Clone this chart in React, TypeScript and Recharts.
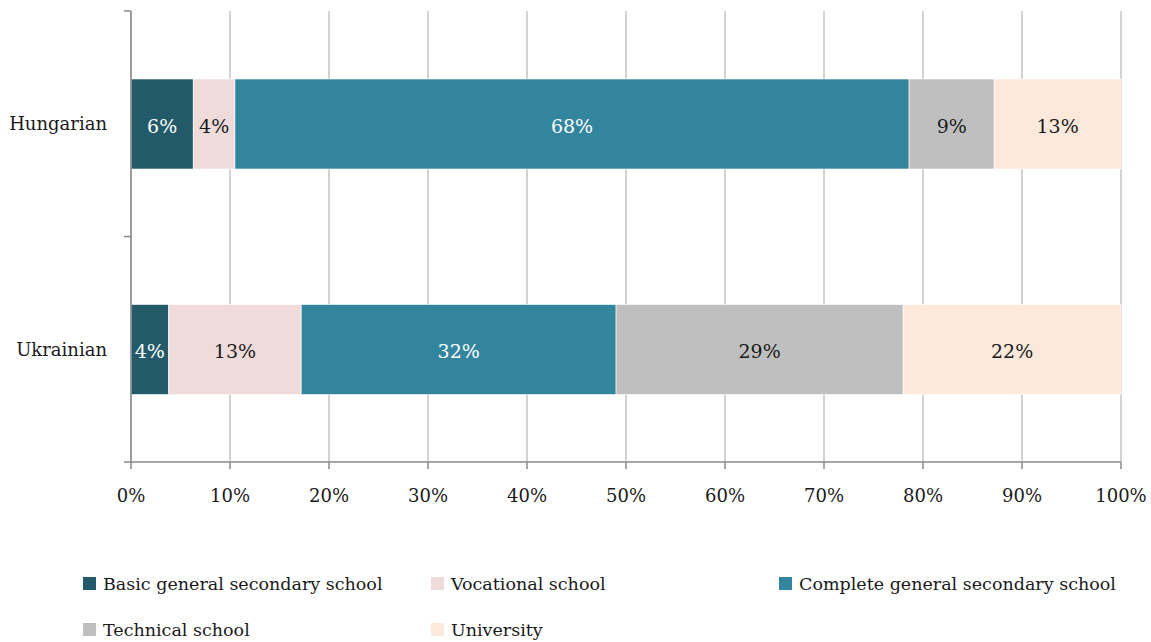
import React from "react";
import { BarChart, Bar, XAxis, YAxis, CartesianGrid, LabelList } from "recharts";

const groups = ["Hungarian", "Ukrainian"];
const seriesNames = [
  "Basic general secondary school",
  "Vocational school",
  "Complete general secondary school",
  "Technical school",
  "University",
];
const basicGeneral = [6.3, 3.8];
const vocational = [4.2, 13.4];
const completeGeneral = [68.1, 31.8];
const technical = [8.6, 29.0];
const university = [12.8, 22.0];
const xTicks = [0, 10, 20, 30, 40, 50, 60, 70, 80, 90, 100];

const colors = ["#235a69", "#f0dbdb", "#33859e", "#bfbfbf", "#fce9dc"];
const labelColors = ["#ffffff", "#1a1a1a", "#ffffff", "#1a1a1a", "#1a1a1a"];
const keys = ["basic", "vocational", "complete", "technical", "university"];

const data = groups.map((g, i) => ({
  group: g,
  basic: basicGeneral[i],
  vocational: vocational[i],
  complete: completeGeneral[i],
  technical: technical[i],
  university: university[i],
}));

const FONT = "DejaVu Serif";
const AXIS = "#8a8a8a";

// y axis: text at band centre, tick marks at band edges
const BAND_HALF = 112.75;
const CategoryTick = (props: any) => {
  const { x, y, payload, index } = props;
  const ax = x + 24;
  return (
    <g>
      <line x1={ax - 7} x2={ax} y1={y - BAND_HALF} y2={y - BAND_HALF} stroke={AXIS} strokeWidth={1.5} />
      {index === groups.length - 1 && (
        <line x1={ax - 7} x2={ax} y1={y + BAND_HALF} y2={y + BAND_HALF} stroke={AXIS} strokeWidth={1.5} />
      )}
      <text x={x} y={y} dy="0.35em" textAnchor="end" fontFamily={FONT} fontSize={18} fill="#1a1a1a">
        {payload.value}
      </text>
    </g>
  );
};

export default function App() {
  return (
    <div style={{ position: "relative", width: 1151, height: 642, padding: 8, boxSizing: "border-box", fontFamily: FONT }}>
      <style>{"body{margin:0}"}</style>
      <BarChart
        width={1143}
        height={500}
        data={data}
        layout="vertical"
        margin={{ top: 3, right: 30, left: 0, bottom: 0 }}
        barSize={90}
      >
        <CartesianGrid horizontal={false} vertical stroke="#c4c4c4" strokeWidth={1.5} />
        <XAxis
          type="number"
          domain={[0, 100]}
          ticks={xTicks}
          tickFormatter={(v) => `${v}%`}
          stroke={AXIS}
          strokeWidth={1.5}
          tickSize={7}
          tickMargin={20}
          height={46}
          tick={{ fill: "#1a1a1a", fontSize: 18, fontFamily: FONT }}
          interval={0}
        />
        <YAxis
          type="category"
          dataKey="group"
          width={123}
          stroke={AXIS}
          strokeWidth={1.5}
          tickLine={false}
          tickSize={6}
          tickMargin={18}
          tick={<CategoryTick />}
        />
        {keys.map((k, i) => (
          <Bar key={k} dataKey={k} name={seriesNames[i]} stackId="a" fill={colors[i]} stroke="#ffffff" strokeWidth={0.6} isAnimationActive={false}>
            <LabelList
              dataKey={k}
              position="center"
              formatter={(v: any) => `${Math.round(v)}%`}
              fill={labelColors[i]}
              dy={2}
              style={{ fontFamily: FONT, fontSize: 19 }}
            />
          </Bar>
        ))}
      </BarChart>
      <div
        style={{
          position: "absolute",
          left: 83,
          top: 571,
          display: "grid",
          gridTemplateColumns: "348px 348px 348px",
          rowGap: 21,
        }}
      >
        {seriesNames.map((n, i) => (
          <div key={n} style={{ display: "flex", alignItems: "center", height: 25, fontSize: 17.5, color: "#1a1a1a", whiteSpace: "nowrap" }}>
            <span style={{ display: "inline-block", width: 13, height: 13, background: colors[i], marginRight: 7, flexShrink: 0 }} />
            {n}
          </div>
        ))}
      </div>
    </div>
  );
}
